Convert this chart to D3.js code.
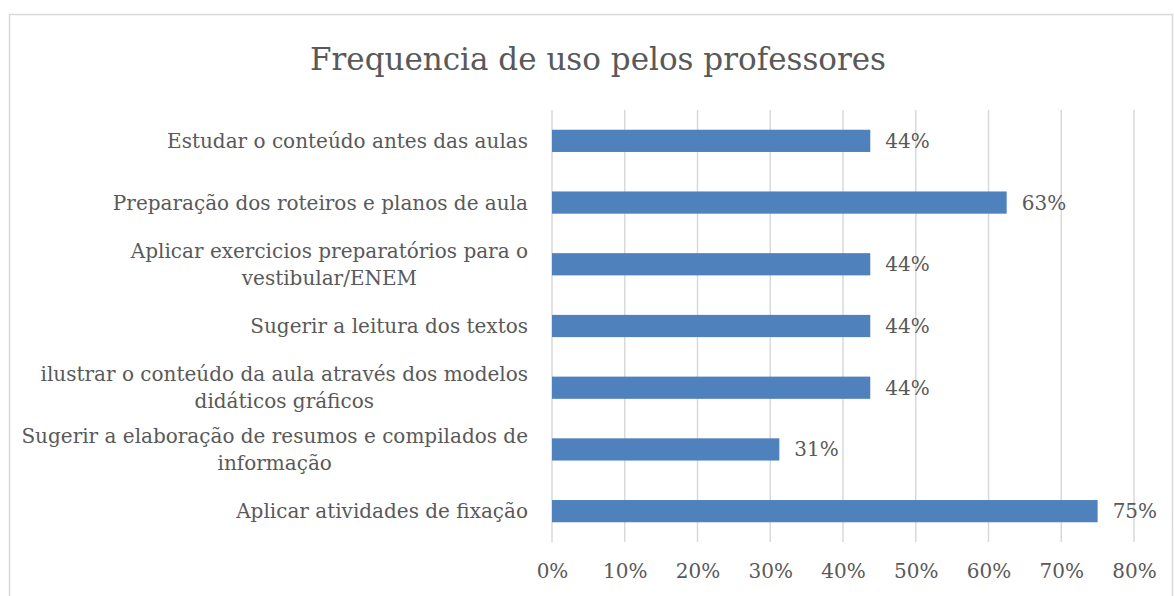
<!DOCTYPE html>
<html>
<head>
<meta charset="utf-8">
<script src="https://cdn.jsdelivr.net/npm/d3@7"></script>
<style>
  body { margin: 0; background: #fff; }
  svg text { font-family: "DejaVu Serif", serif; fill: #595959; }
</style>
</head>
<body>
<svg id="chart" width="1174" height="596"></svg>
<script>
// chart data
var title = "Frequencia de uso pelos professores";
var categories = [
  "Estudar o conteúdo antes das aulas",
  "Preparação dos roteiros e planos de aula",
  "Aplicar exercicios preparatórios para o\nvestibular/ENEM",
  "Sugerir a leitura dos textos",
  "ilustrar o conteúdo da aula através dos modelos\ndidáticos gráficos",
  "Sugerir a elaboração de resumos e compilados de\ninformação",
  "Aplicar atividades de fixação"
];
var values = [0.4375, 0.625, 0.4375, 0.4375, 0.4375, 0.3125, 0.75];
var tickValues = [0, 0.1, 0.2, 0.3, 0.4, 0.5, 0.6, 0.7, 0.8];

var svg = d3.select("#chart"),
    margin = {top: 110, right: 40, bottom: 54, left: 552},
    width = +svg.attr("width") - margin.left - margin.right,
    height = +svg.attr("height") - margin.top - margin.bottom;

// chart border
svg.append("rect")
  .attr("x", 9.5).attr("y", 14.5)
  .attr("width", 1163).attr("height", 600)
  .attr("fill", "none")
  .attr("stroke", "#d9d9d9")
  .attr("stroke-width", 1.5);

svg.append("text")
  .attr("x", 598).attr("y", 70)
  .attr("text-anchor", "middle")
  .attr("font-size", 31)
  .text(title);

var x = d3.scaleLinear().domain([0, 0.8]).range([0, 582]);
var y = d3.scaleBand().domain(categories).range([0, height]).paddingInner(0.64).paddingOuter(0.32);

var g = svg.append("g").attr("transform", "translate(" + margin.left + "," + margin.top + ")");

// gridlines
g.append("g")
  .selectAll("line")
  .data(tickValues)
  .enter().append("line")
  .attr("x1", function(d) { return x(d); })
  .attr("x2", function(d) { return x(d); })
  .attr("y1", 0).attr("y2", height)
  .attr("stroke", "#d9d9d9")
  .attr("stroke-width", 1.5);

// x axis labels
var xAxis = g.append("g")
  .attr("transform", "translate(0," + height + ")")
  .call(d3.axisBottom(x).tickValues(tickValues).tickFormat(d3.format(".0%")).tickSize(0).tickPadding(22));
xAxis.select(".domain").remove();
xAxis.selectAll("text").attr("font-size", 20).attr("fill", "#595959")
  .attr("font-family", "DejaVu Serif, serif");

// bars
g.selectAll("rect.bar")
  .data(values)
  .enter().append("rect")
  .attr("class", "bar")
  .attr("x", x(0))
  .attr("y", function(d, i) { return y(categories[i]); })
  .attr("width", function(d) { return x(d) - x(0); })
  .attr("height", y.bandwidth())
  .attr("fill", "#4f81bd");

// value labels
g.selectAll("text.val")
  .data(values)
  .enter().append("text")
  .attr("class", "val")
  .attr("x", function(d) { return x(d) + 15; })
  .attr("y", function(d, i) { return y(categories[i]) + y.bandwidth() / 2; })
  .attr("dy", "0.35em")
  .attr("font-size", 20)
  .text(function(d) { return d3.format(".0%")(d); });

// category labels, multi-line ones are centred within a right-aligned block
var lineH = 27;
categories.forEach(function(c, i) {
  var lines = c.split("\n");
  var cy = y(c) + y.bandwidth() / 2;
  var t = g.append("text")
    .attr("font-size", 20)
    .attr("text-anchor", "middle");
  lines.forEach(function(l, j) {
    t.append("tspan")
      .attr("y", cy + (j - (lines.length - 1) / 2) * lineH)
      .attr("dy", "0.35em")
      .text(l);
  });
  var maxW = 0;
  t.selectAll("tspan").each(function() {
    maxW = Math.max(maxW, this.getComputedTextLength());
  });
  t.selectAll("tspan").attr("x", -24 - maxW / 2);
});
</script>
</body>
</html>
